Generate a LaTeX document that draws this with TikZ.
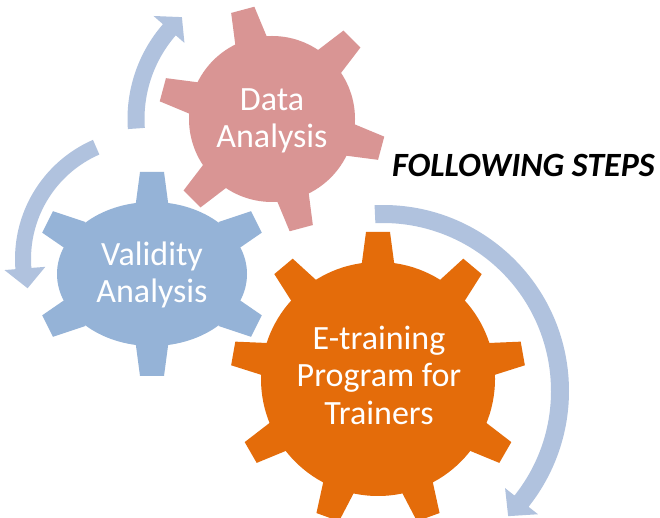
\documentclass[tikz,border=0pt]{standalone}
\usepackage{fontspec}
\setmainfont{Carlito}
\definecolor{pinkg}{HTML}{D99594}
\definecolor{blueg}{HTML}{95B3D7}
\definecolor{orangeg}{HTML}{E46C0A}
\definecolor{arrowc}{HTML}{B0C2DE}
\newcommand\geartooth[4]{\fill[#4,rotate=#1] (#2-6,-16.8) -- (#3,-12) -- (#3,12) -- (#2-6,16.8) -- cycle;}
\tikzset{
  geartext/.style={text=white,align=center,font=\fontsize{34}{37.5}\selectfont,inner sep=0pt},
  arrowfill/.style={fill=arrowc}
}
\begin{document}
\begin{tikzpicture}[x=1pt,y=1pt]
\useasboundingbox (0,0) rectangle (660,518);
\fill[white] (0,0) rectangle (660,518);
% arrows
\begin{scope}[shift={(272,399)}]
\fill[arrowfill] (184:144.5) arc[start angle=184,end angle=139,radius=144.5] -- (139:157) -- (131.5:136) -- (139:116) -- (139:127.5) arc[start angle=139,end angle=184,radius=127.5] -- cycle;
\end{scope}
\begin{scope}[shift={(145,259)}]
\fill[arrowfill] (113.6:130) arc[start angle=113.6,end angle=184.5,radius=130] -- (184.5:141) -- (194:121) -- (184.5:100) -- (184.5:114) arc[start angle=184.5,end angle=113.6,radius=114] -- cycle;
\end{scope}
\begin{scope}[shift={(383,127)}]
\fill[arrowfill] (92.6:186) arc[start angle=92.6,end angle=-38.5,radius=186] -- (-38.5:198) -- (-45:177) -- (-38.5:156) -- (-38.5:168) arc[start angle=-38.5,end angle=92.6,radius=168] -- cycle;
\end{scope}
% pink gear
\begin{scope}[shift={(272,399)}]
\fill[pinkg] (0,0) circle[radius=83];
\foreach \a in {105,45,-15,-75,-135,165} {\geartooth{\a}{83}{113}{pinkg}}
\end{scope}
% blue gear
\begin{scope}[shift={(152,244)}]
\fill[blueg] (0,0) ellipse[x radius=95,y radius=72];
\foreach \a in {90,-90} {\geartooth{\a}{72}{102}{blueg}}
\foreach \a in {26.5,-26.5,153.5,-153.5} {\geartooth{\a}{88.7}{116.7}{blueg}}
\end{scope}
% orange gear
\begin{scope}[shift={(378,139)}]
\fill[orangeg] (0,0) circle[radius=117];
\foreach \a in {90,130,170,210,250,290,330,370,410} {\geartooth{\a}{117}{147}{orangeg}}
\end{scope}
% texts
\node[geartext] (data) at (272,397) {Data\\Analysis};
\node[geartext] (valid) at (152,243) {Validity\\Analysis};
\node[geartext] (etrain) at (379,143) {E-training\\Program for\\Trainers};
\node[anchor=base,inner sep=0pt,font=\fontsize{34}{40}\selectfont\bfseries\itshape] (steps) at (523.5,341.3) {FOLLOWING STEPS};
\end{tikzpicture}
\end{document}
